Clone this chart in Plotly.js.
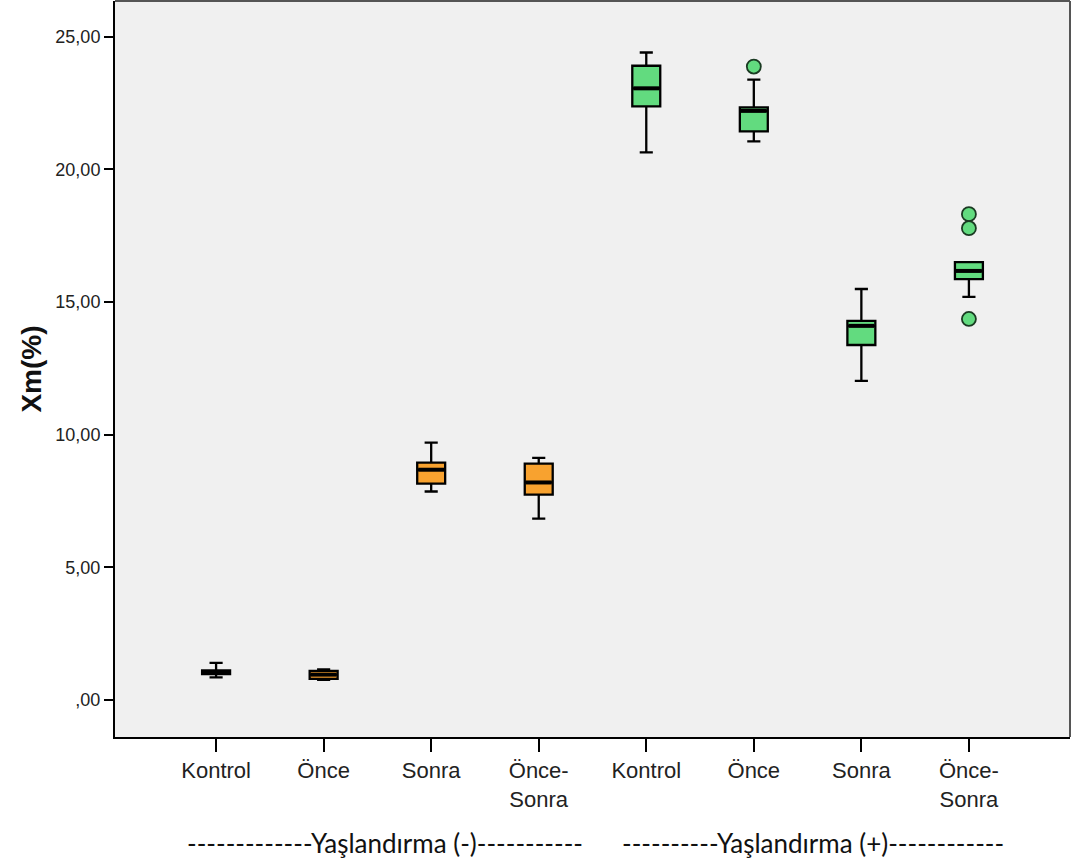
<!DOCTYPE html>
<html>
<head>
<meta charset="utf-8">
<script src="https://cdn.plot.ly/plotly-3.0.1.min.js"></script>
<style>html,body{margin:0;padding:0;background:#fff;}#chart{width:1073px;height:867px;}</style>
</head>
<body>
<div id="chart"></div>
<script>
// Categories (positions 0..7)
var categoryLabels = ["Kontrol", "Önce", "Sonra", "Önce-<br>Sonra", "Kontrol", "Önce", "Sonra", "Önce-<br>Sonra"];
var groupLabels = ["-------------Yaşlandırma (-)-----------", "----------Yaşlandırma (+)------------"];

// Yaşlandırma (-) boxes
var negX = [0, 1, 2, 3];
var negLower = [0.86, 0.76, 7.86, 6.84];
var negQ1 = [0.98, 0.80, 8.16, 7.74];
var negMedian = [1.06, 0.96, 8.68, 8.20];
var negQ3 = [1.12, 1.10, 8.95, 8.91];
var negUpper = [1.40, 1.16, 9.70, 9.13];

// Yaşlandırma (+) boxes
var posX = [4, 5, 6, 7];
var posLower = [20.64, 21.05, 12.03, 15.19];
var posQ1 = [22.37, 21.43, 13.38, 15.86];
var posMedian = [23.05, 22.20, 14.10, 16.17];
var posQ3 = [23.90, 22.33, 14.29, 16.50];
var posUpper = [24.40, 23.38, 15.49, 16.50];

// Outliers
var outX = [5, 7, 7, 7];
var outY = [23.87, 18.31, 17.78, 14.36];

var yTickVals = [0, 5, 10, 15, 20, 25];
var yTickText = [",00", "5,00", "10,00", "15,00", "20,00", "25,00"];

var orange = "#F8A22F";
var green = "#62DB7F";
var boxWidth = 0.26;
var sans = "Arial, 'Liberation Sans', sans-serif";

var traces = [
  {
    type: "box", x: negX, q1: negQ1, median: negMedian, q3: negQ3,
    lowerfence: negLower, upperfence: negUpper, boxpoints: false,
    width: boxWidth, whiskerwidth: 0.47, fillcolor: orange,
    line: {color: "#000", width: 2.3}, hoverinfo: "skip", showlegend: false
  },
  {
    type: "box", x: posX, q1: posQ1, median: posMedian, q3: posQ3,
    lowerfence: posLower, upperfence: posUpper, boxpoints: false,
    width: boxWidth, whiskerwidth: 0.47, fillcolor: green,
    line: {color: "#000", width: 2.3}, hoverinfo: "skip", showlegend: false
  }
];

// thicker median lines derived from the median arrays
function medianTrace(xs, meds) {
  var mx = [], my = [];
  for (var i = 0; i < xs.length; i++) {
    mx.push(xs[i] - boxWidth / 2 + 0.01, xs[i] + boxWidth / 2 - 0.01, null);
    my.push(meds[i], meds[i], null);
  }
  return {type: "scatter", mode: "lines", x: mx, y: my, line: {color: "#000", width: 4},
          hoverinfo: "skip", showlegend: false};
}
traces.push(medianTrace(negX, negMedian));
traces.push(medianTrace(posX, posMedian));

traces.push({
  type: "scatter", mode: "markers", x: outX, y: outY,
  marker: {symbol: "circle", size: 14, color: green, line: {color: "#1a3a22", width: 1.8}},
  hoverinfo: "skip", showlegend: false
});

var layout = {
  width: 1073, height: 867,
  margin: {l: 115, r: 3, t: 1, b: 130},
  paper_bgcolor: "#ffffff",
  plot_bgcolor: "#F0F0F0",
  font: {family: sans, color: "#222"},
  showlegend: false,
  xaxis: {
    range: [-0.94, 7.94],
    tickmode: "array", tickvals: [0, 1, 2, 3, 4, 5, 6, 7], ticktext: categoryLabels,
    ticks: "outside", ticklen: 13, tickwidth: 2, tickcolor: "#000",
    showline: true, linecolor: "#000", linewidth: 2,
    showgrid: false, zeroline: false,
    tickfont: {size: 22, family: sans, color: "#222"},
    fixedrange: true
  },
  yaxis: {
    range: [-1.39, 26.34],
    tickmode: "array", tickvals: yTickVals, ticktext: yTickText,
    ticks: "outside", ticklen: 9, tickwidth: 2, tickcolor: "#000",
    showline: true, linecolor: "#000", linewidth: 2,
    showgrid: false, zeroline: false,
    tickfont: {size: 18, family: sans, color: "#222"},
    title: {text: "<b>Xm(%)</b>", font: {size: 28, family: sans, color: "#111"}, standoff: 6},
    fixedrange: true
  },
  shapes: [
    {type: "line", xref: "paper", yref: "paper", x0: 0, x1: 1, y0: 1, y1: 1, line: {color: "#555", width: 2}},
    {type: "line", xref: "paper", yref: "paper", x0: 1, x1: 1, y0: 0, y1: 1, line: {color: "#555", width: 2}}
  ],
  annotations: [
    {xref: "paper", yref: "paper", x: (385 - 115) / 955, y: -(843 - 737) / 736, text: groupLabels[0],
     showarrow: false, xanchor: "center", yanchor: "middle",
     font: {family: "Lato, Open Sans, sans-serif", size: 26, color: "#111"}},
    {xref: "paper", yref: "paper", x: (813 - 115) / 955, y: -(843 - 737) / 736, text: groupLabels[1],
     showarrow: false, xanchor: "center", yanchor: "middle",
     font: {family: "Lato, Open Sans, sans-serif", size: 26, color: "#111"}}
  ]
};

Plotly.newPlot("chart", traces, layout, {displayModeBar: false, staticPlot: true});
</script>
</body>
</html>
